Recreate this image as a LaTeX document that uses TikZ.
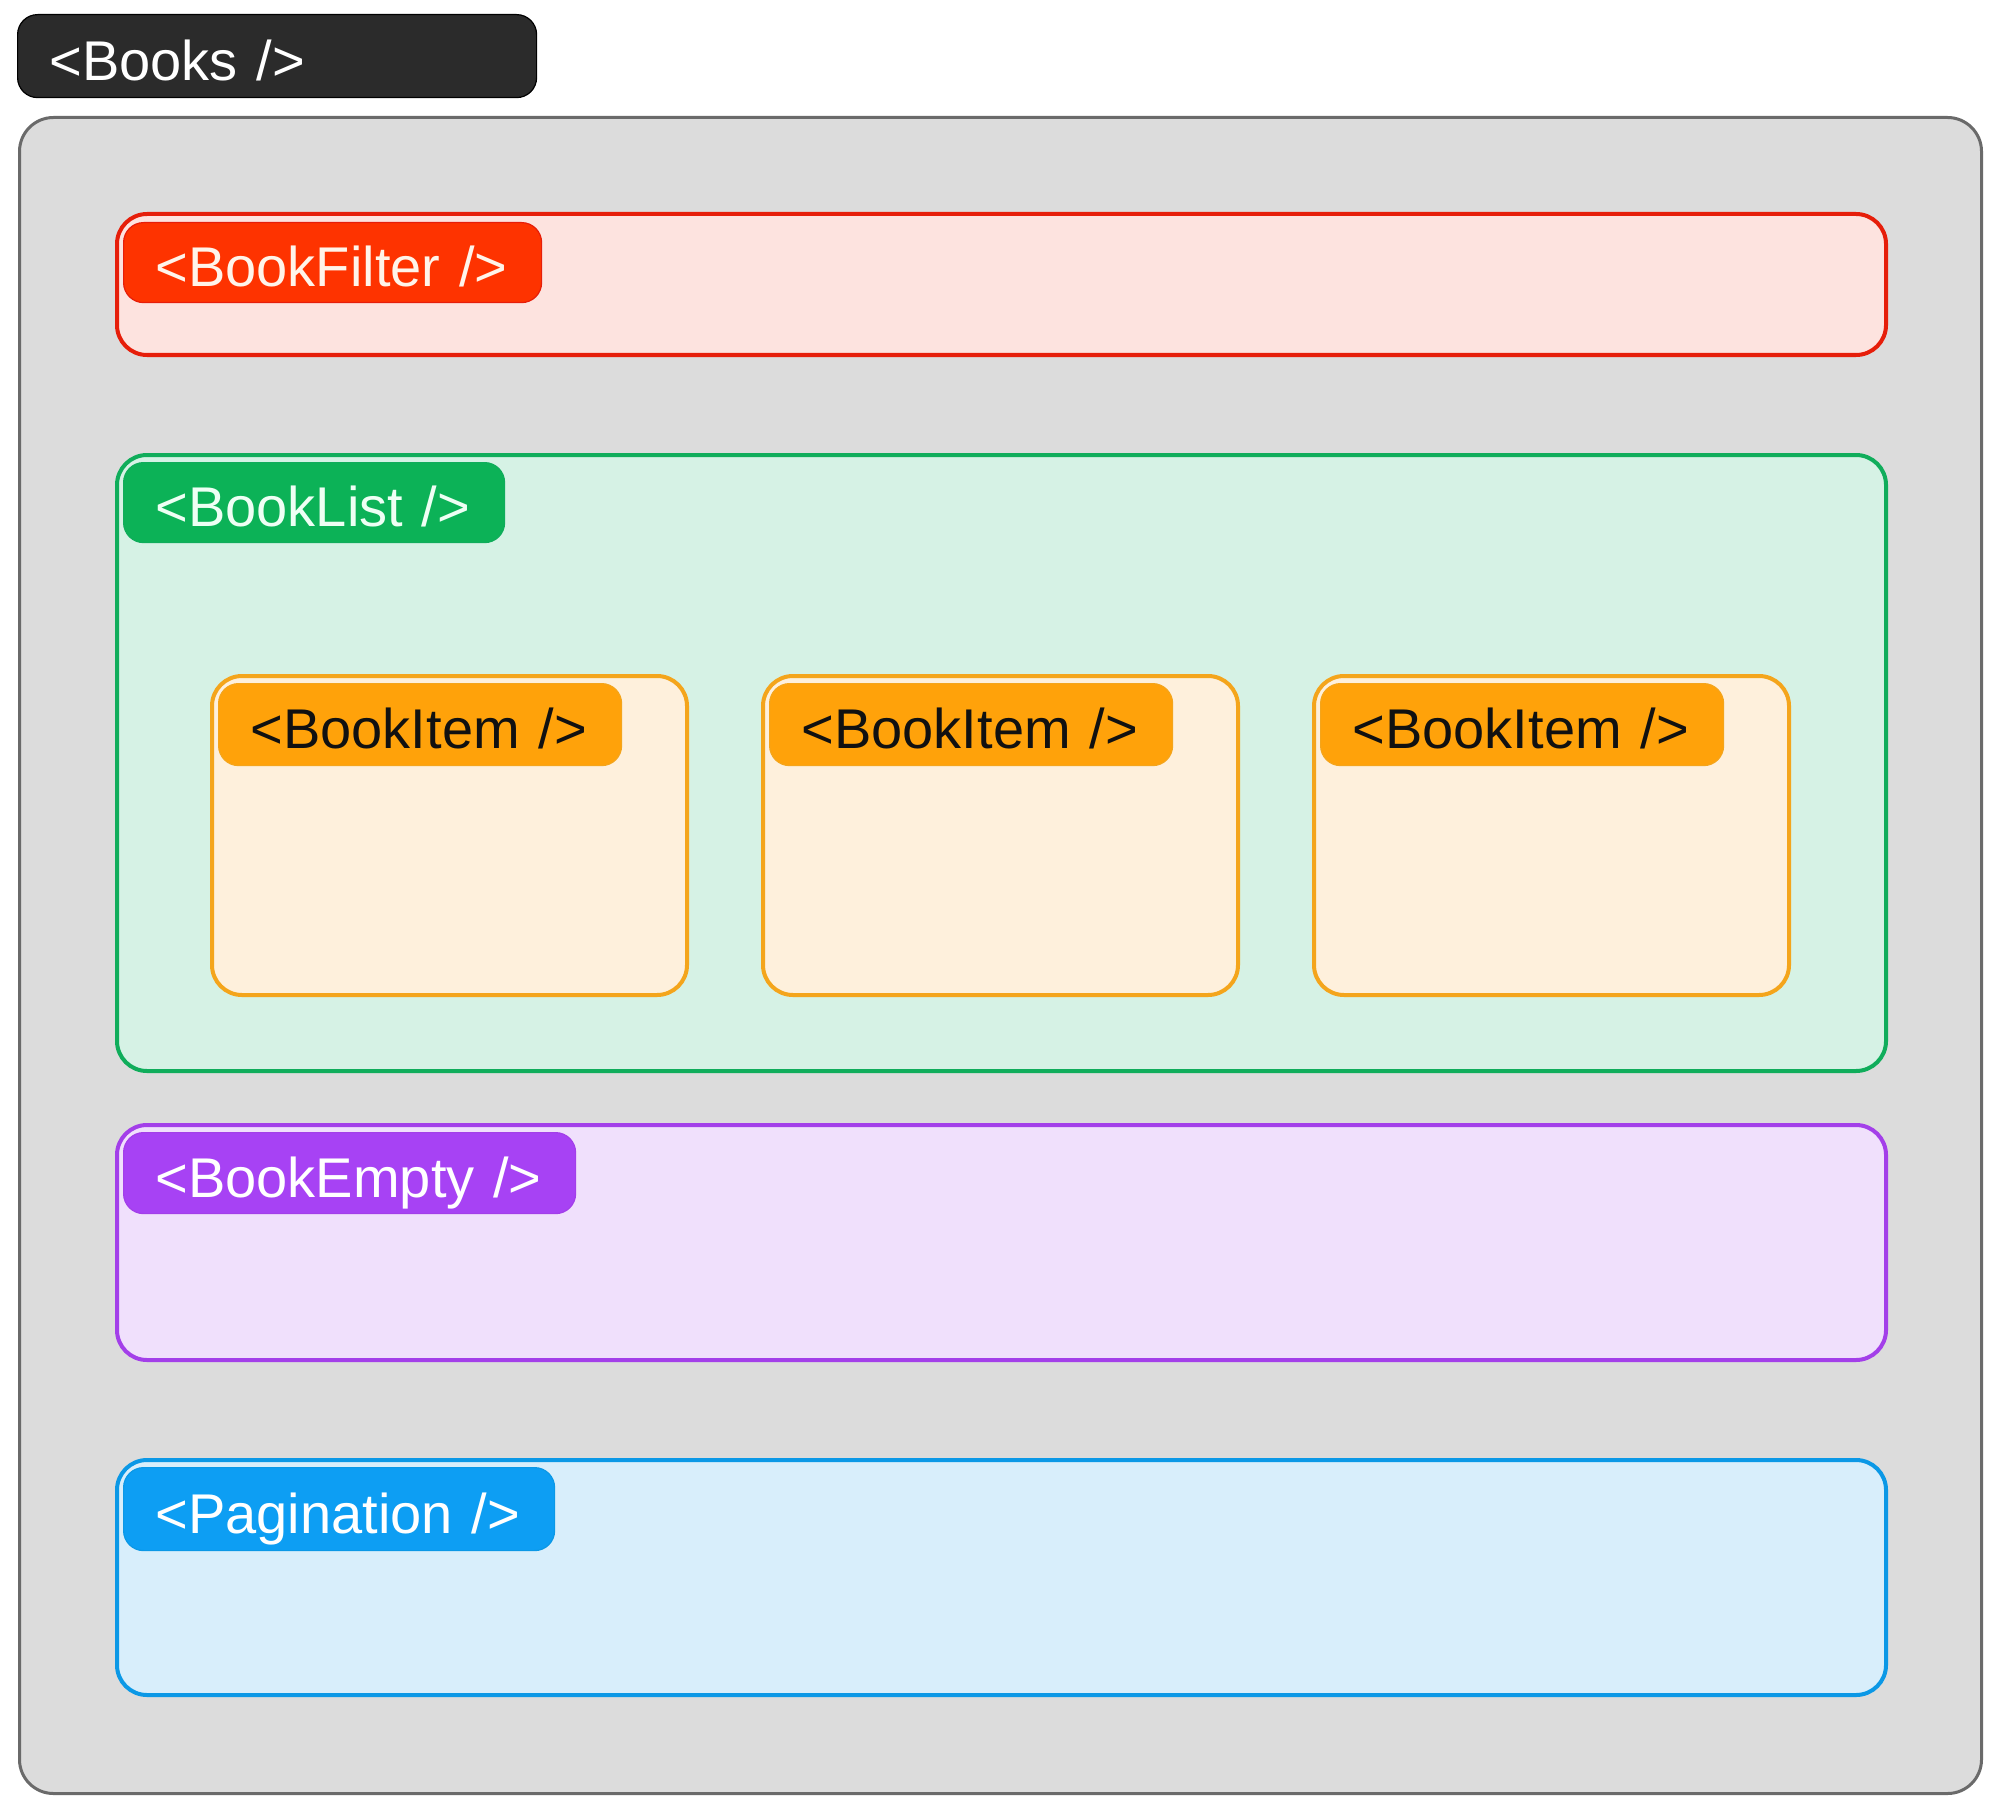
\documentclass[tikz,border=0pt]{standalone}
\usepackage{fontspec}
\setmainfont{Liberation Sans}
\definecolor{grayfill}{HTML}{DCDCDC}
\definecolor{grayline}{HTML}{6A6A6A}
\definecolor{bookslbl}{HTML}{2B2B2B}
\definecolor{redfill}{HTML}{FDE3DF}
\definecolor{redline}{HTML}{E61E0A}
\definecolor{redlbl}{HTML}{FE3300}
\definecolor{redtext}{HTML}{FFF4EA}
\definecolor{greenfill}{HTML}{D6F2E5}
\definecolor{greenline}{HTML}{10AD5B}
\definecolor{greenlbl}{HTML}{0CB257}
\definecolor{greentext}{HTML}{EEFFF4}
\definecolor{itemfill}{HTML}{FEF0DC}
\definecolor{itemline}{HTML}{F4A51C}
\definecolor{itemlbl}{HTML}{FFA20A}
\definecolor{itemtext}{HTML}{111111}
\definecolor{purplefill}{HTML}{F0E0FC}
\definecolor{purpleline}{HTML}{A33FE9}
\definecolor{purplelbl}{HTML}{A742F4}
\definecolor{bluefill}{HTML}{D8EEFB}
\definecolor{blueline}{HTML}{0B98E6}
\definecolor{bluelbl}{HTML}{0D9EF3}
\begin{document}
\begin{tikzpicture}[x=0.5pt,y=-0.5pt,
  panel/.style 2 args={anchor=north west, fill=#1, draw=#2, line width=2pt, rounded corners=15pt, inner sep=0pt},
  lbl/.style n args={3}{anchor=north west, fill=#1, draw=#2, text=#3, line width=0.6pt,
    rounded corners=10pt, inner xsep=16pt, inner ysep=0pt, text height=24pt, text depth=0pt,
    align=left, font=\fontsize{28pt}{32pt}\selectfont}]
\useasboundingbox (0,0) rectangle (2000,1808);
\fill[white] (0,0) rectangle (2000,1808);

% outer container
\node[panel={grayfill}{grayline}, line width=1.5pt, rounded corners=17pt,
  minimum width=981pt, minimum height=838pt] (books) at (18,116) {};

% sections
\node[panel={redfill}{redline}, minimum width=884.5pt, minimum height=70.5pt] (filter) at (115,212) {};
\node[panel={greenfill}{greenline}, minimum width=884.5pt, minimum height=308pt] (list) at (115,453) {};
\node[panel={purplefill}{purpleline}, minimum width=884.5pt, minimum height=117.5pt] (empty) at (115,1123) {};
\node[panel={bluefill}{blueline}, minimum width=884.5pt, minimum height=117.5pt] (pagination) at (115,1458) {};

% items
\node[panel={itemfill}{itemline}, minimum width=237.5pt, minimum height=159.5pt] (itemA) at (210,674) {};
\node[panel={itemfill}{itemline}, minimum width=237.5pt, minimum height=159.5pt] (itemB) at (761,674) {};
\node[panel={itemfill}{itemline}, minimum width=237.5pt, minimum height=159.5pt] (itemC) at (1312,674) {};

% labels
\node[lbl={bookslbl}{black}{white}, minimum width=259.5pt, text width=227.5pt, minimum height=41.5pt] (booksL) at (17,14) {<Books />};
\node[lbl={redlbl}{redline}{redtext}, minimum width=209pt, text width=177pt, minimum height=40pt] (filterL) at (123,222) {<BookFilter />};
\node[lbl={greenlbl}{greenline}{greentext}, minimum width=190.5pt, text width=158.5pt, minimum height=40pt] (listL) at (123,462) {<BookList />};
\node[lbl={itemlbl}{itemline}{itemtext}, minimum width=201.5pt, text width=169.5pt, minimum height=41pt] (itemAL) at (218,683) {<BookItem />};
\node[lbl={itemlbl}{itemline}{itemtext}, minimum width=201.5pt, text width=169.5pt, minimum height=41pt] (itemBL) at (769,683) {<BookItem />};
\node[lbl={itemlbl}{itemline}{itemtext}, minimum width=201.5pt, text width=169.5pt, minimum height=41pt] (itemCL) at (1320,683) {<BookItem />};
\node[lbl={purplelbl}{purpleline}{white}, minimum width=226pt, text width=194pt, minimum height=40.5pt] (emptyL) at (123,1132) {<BookEmpty />};
\node[lbl={bluelbl}{blueline}{white}, minimum width=215.5pt, text width=183.5pt, minimum height=41.5pt] (paginationL) at (123,1467) {<Pagination />};
\end{tikzpicture}
\end{document}
